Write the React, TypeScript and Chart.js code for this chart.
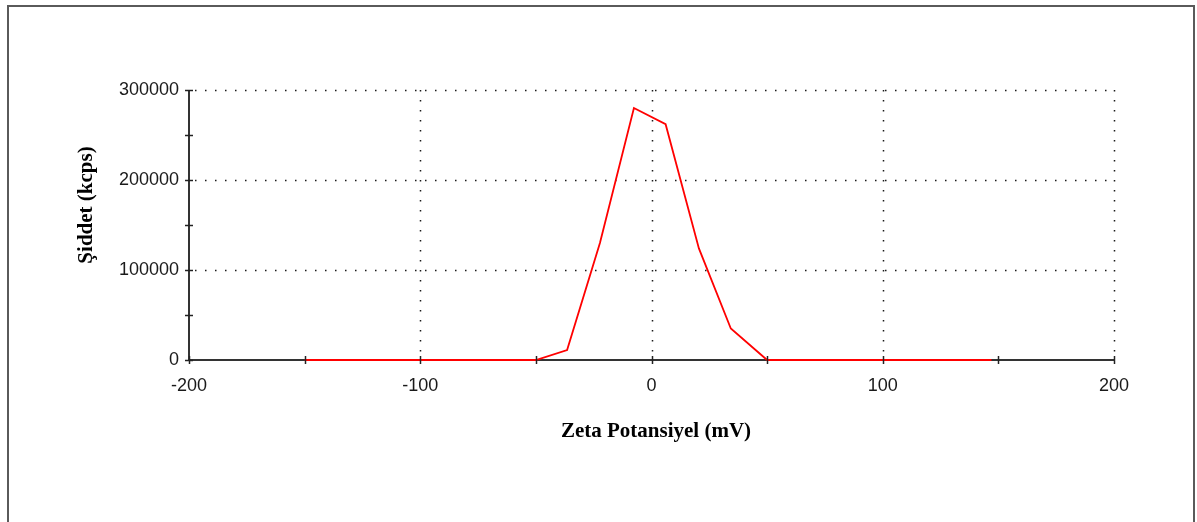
import React, { useEffect, useRef } from "react";
import { Chart, registerables } from "chart.js";

Chart.register(...registerables);

// Data
const zetaMv: number[] = [-150, -50, -36.5, -22.3, -7.6, 6.1, 20.5, 34.3, 50, 147];
const intensityKcps: number[] = [0, 0, 11000, 130000, 280000, 262000, 124000, 35000, 0, 0];

const xMajorTicks: number[] = [-200, -100, 0, 100, 200];
const xMinorTicks: number[] = [-150, -50, 50, 150];
const yMajorTicks: number[] = [0, 100000, 200000, 300000];
const yMinorTicks: number[] = [50000, 150000, 250000];

const xTitle = "Zeta Potansiyel (mV)";
const yTitle = "Şiddet (kcps)";

const W = 1197;
const H = 522;

const decorPlugin = {
  id: "decor",
  beforeDatasetsDraw(chart: any) {
    const { ctx, chartArea, scales } = chart;
    const x = scales.x;
    const y = scales.y;
    ctx.save();
    // frame
    ctx.strokeStyle = "#5a5a5a";
    ctx.lineWidth = 2;
    ctx.strokeRect(8, 6, 1186, 600);

    // dotted grid
    ctx.strokeStyle = "#1a1a1a";
    ctx.lineWidth = 1.5;
    ctx.setLineDash([1.5, 8.5]);
    for (const v of yMajorTicks) {
      if (v === 0) continue;
      const py = Math.round(y.getPixelForValue(v)) + 0.5;
      ctx.beginPath();
      ctx.moveTo(chartArea.left + 6, py);
      ctx.lineTo(chartArea.right, py);
      ctx.stroke();
    }
    for (const v of xMajorTicks) {
      if (v === -200) continue;
      const px = Math.round(x.getPixelForValue(v)) + 0.5;
      ctx.beginPath();
      ctx.moveTo(px, chartArea.top);
      ctx.lineTo(px, chartArea.bottom - 4);
      ctx.stroke();
    }
    ctx.setLineDash([]);

    // axes
    ctx.strokeStyle = "#333";
    ctx.lineWidth = 2;
    const y0 = y.getPixelForValue(0);
    const xl = x.getPixelForValue(-200);
    ctx.beginPath();
    ctx.moveTo(chartArea.left, y0);
    ctx.lineTo(chartArea.right, y0);
    ctx.stroke();
    ctx.beginPath();
    ctx.moveTo(xl, chartArea.top);
    ctx.lineTo(xl, chartArea.bottom);
    ctx.stroke();

    // axis titles
    ctx.fillStyle = "#000";
    ctx.font = "bold 21px 'Liberation Serif', 'Times New Roman', serif";
    ctx.textAlign = "center";
    ctx.textBaseline = "alphabetic";
    ctx.fillText(xTitle, 656, 437);
    ctx.translate(92, 205);
    ctx.rotate(-Math.PI / 2);
    ctx.fillText(yTitle, 0, 0);
    ctx.restore();
  },
  afterDatasetsDraw(chart: any) {
    const { ctx, scales } = chart;
    const x = scales.x;
    const y = scales.y;
    ctx.save();
    ctx.strokeStyle = "#222";
    ctx.lineWidth = 1.5;
    const y0 = y.getPixelForValue(0);
    const xl = x.getPixelForValue(-200);
    for (const v of [...xMajorTicks, ...xMinorTicks]) {
      const px = Math.round(x.getPixelForValue(v)) + 0.5;
      ctx.beginPath();
      ctx.moveTo(px, y0 - 4);
      ctx.lineTo(px, y0 + 4);
      ctx.stroke();
    }
    for (const v of [...yMajorTicks, ...yMinorTicks]) {
      const py = Math.round(y.getPixelForValue(v)) + 0.5;
      ctx.beginPath();
      ctx.moveTo(xl - 4, py);
      ctx.lineTo(xl + 4, py);
      ctx.stroke();
    }
    ctx.restore();
  },
};

export default function App() {
  const ref = useRef<HTMLCanvasElement | null>(null);

  useEffect(() => {
    document.body.style.margin = "0";
    document.body.style.background = "#fff";
    const canvas = ref.current;
    if (!canvas) return;
    const chart = new Chart(canvas, {
      type: "line",
      data: {
        datasets: [
          {
            label: "Şiddet",
            data: zetaMv.map((v, i) => ({ x: v, y: intensityKcps[i] })),
            borderColor: "#ff0000",
            borderWidth: 1.8,
            pointRadius: 0,
            tension: 0,
            fill: false,
            clip: false,
          },
        ],
      },
      options: {
        animation: false,
        responsive: false,
        maintainAspectRatio: false,
        layout: { padding: { left: 0, top: 90, right: 83, bottom: 0 } },
        plugins: {
          legend: { display: false },
          tooltip: { enabled: false },
          title: { display: false },
        },
        scales: {
          x: {
            type: "linear",
            min: -200,
            max: 200,
            afterBuildTicks: (s: any) => {
              s.ticks = xMajorTicks.map((v) => ({ value: v }));
            },
            afterFit: (s: any) => {
              s.height = H - 360;
            },
            grid: { display: false, drawTicks: false },
            border: { display: false },
            ticks: {
              padding: 15,
              color: "#1a1a1a",
              font: { family: "'Liberation Sans', Arial, sans-serif", size: 18 },
              maxRotation: 0,
              autoSkip: false,
            },
          },
          y: {
            type: "linear",
            min: 0,
            max: 300000,
            afterBuildTicks: (s: any) => {
              s.ticks = yMajorTicks.map((v) => ({ value: v }));
            },
            afterFit: (s: any) => {
              s.width = 189;
            },
            grid: { display: false, drawTicks: false },
            border: { display: false },
            ticks: {
              padding: 10,
              color: "#1a1a1a",
              font: { family: "'Liberation Sans', Arial, sans-serif", size: 18 },
              callback: (v: any) => String(v),
            },
          },
        },
      },
      plugins: [decorPlugin],
    } as any);
    return () => chart.destroy();
  }, []);

  return (
    <div style={{ width: W, height: H, position: "relative" }}>
      <canvas ref={ref} width={W} height={H} style={{ display: "block", width: W, height: H }} />
    </div>
  );
}
